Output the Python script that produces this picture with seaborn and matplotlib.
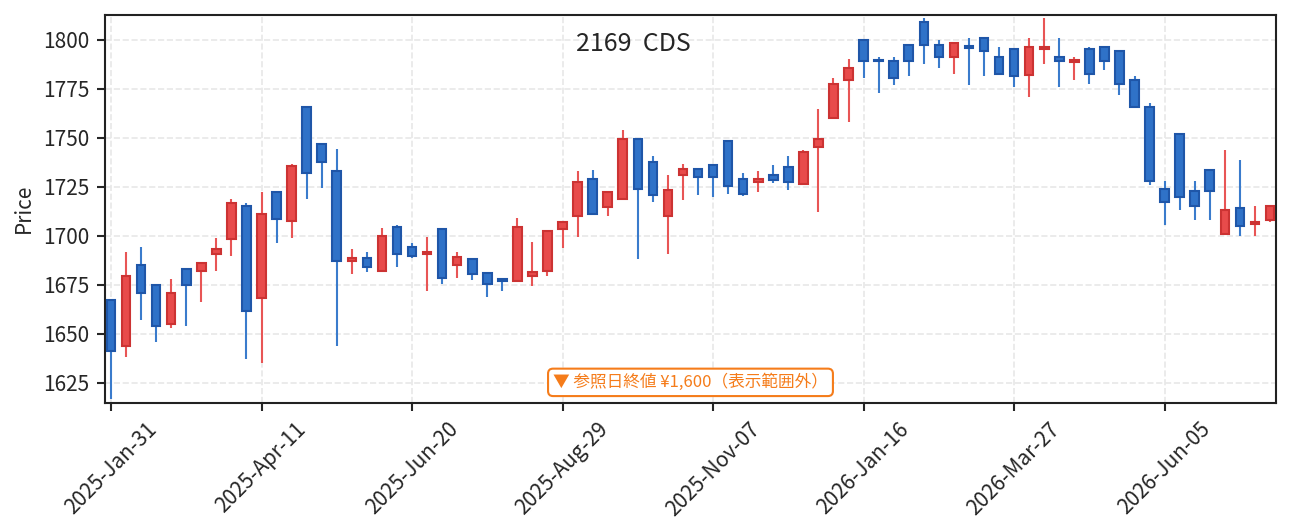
import pandas as pd
import matplotlib
matplotlib.use("Agg")
import matplotlib.pyplot as plt
import matplotlib.dates as mdates
import seaborn as sns

# weekly candles
dates = pd.date_range("2025-01-31", periods=78, freq="7D")

opens = [1667.5, 1643.7, 1685.2, 1675.0, 1654.9, 1683.2, 1682.0, 1690.6, 1698.3, 1715.3,
         1668.2, 1722.4, 1707.5, 1765.8, 1746.9, 1733.2, 1687.1, 1688.8, 1682.0, 1704.3,
         1694.4, 1690.6, 1703.6, 1685.0, 1688.3, 1680.8, 1678.0, 1677.2, 1679.3, 1682.1,
         1703.4, 1710.0, 1729.1, 1714.5, 1718.7, 1749.5, 1737.8, 1710.0, 1731.0, 1734.2,
         1736.2, 1748.5, 1729.1, 1727.6, 1731.1, 1735.2, 1726.4, 1745.2, 1760.0, 1779.3,
         1800.0, 1789.6, 1789.3, 1797.4, 1809.2, 1797.4, 1791.2, 1796.6, 1801.0, 1791.3,
         1795.4, 1782.1, 1795.2, 1791.3, 1788.4, 1795.4, 1796.4, 1794.4, 1779.6, 1765.8,
         1724.0, 1751.7, 1722.9, 1733.7, 1700.9, 1714.3, 1706.0, 1708.0]
closes = [1641.2, 1679.6, 1670.7, 1653.9, 1670.9, 1674.8, 1686.2, 1693.5, 1716.8, 1661.7,
          1711.1, 1708.7, 1735.7, 1732.0, 1737.8, 1687.1, 1688.8, 1684.0, 1700.0, 1690.6,
          1689.6, 1691.8, 1678.4, 1689.3, 1680.4, 1675.3, 1677.2, 1704.6, 1681.6, 1702.6,
          1707.1, 1727.6, 1710.9, 1722.4, 1749.5, 1724.1, 1720.7, 1723.6, 1734.0, 1729.8,
          1729.8, 1725.3, 1721.3, 1729.1, 1728.4, 1727.6, 1742.9, 1749.5, 1777.6, 1785.7,
          1788.9, 1788.9, 1780.4, 1788.9, 1797.1, 1791.2, 1798.5, 1796.0, 1794.2, 1782.3,
          1781.5, 1796.4, 1796.4, 1789.1, 1789.5, 1782.5, 1789.1, 1777.4, 1765.6, 1728.1,
          1717.2, 1719.7, 1715.1, 1722.8, 1713.3, 1704.9, 1707.1, 1715.3]
highs = [1668.0, 1691.7, 1694.2, 1675.0, 1678.2, 1683.2, 1686.2, 1698.8, 1718.7, 1716.5,
         1722.3, 1722.4, 1736.4, 1765.8, 1746.9, 1744.2, 1693.2, 1691.7, 1703.9, 1705.4,
         1696.3, 1699.3, 1703.6, 1691.7, 1688.3, 1680.8, 1678.3, 1709.0, 1696.8, 1702.6,
         1707.1, 1733.0, 1733.8, 1722.4, 1753.9, 1749.5, 1740.6, 1731.0, 1736.4, 1734.2,
         1736.2, 1748.5, 1731.8, 1733.2, 1736.1, 1740.6, 1744.0, 1764.5, 1780.4, 1790.1,
         1800.0, 1791.0, 1791.0, 1797.4, 1810.9, 1799.8, 1798.5, 1800.7, 1801.0, 1796.3,
         1795.4, 1800.8, 1810.9, 1800.8, 1791.0, 1796.1, 1796.4, 1794.4, 1781.3, 1767.5,
         1727.9, 1752.4, 1727.9, 1733.7, 1743.7, 1738.6, 1715.1, 1715.3]
lows = [1616.7, 1638.3, 1657.1, 1645.9, 1653.1, 1654.1, 1666.3, 1682.1, 1689.8, 1637.4,
        1634.9, 1696.4, 1699.0, 1718.9, 1724.5, 1643.9, 1680.6, 1681.6, 1682.0, 1684.2,
        1688.8, 1671.9, 1675.5, 1678.6, 1677.4, 1668.9, 1671.8, 1676.7, 1674.5, 1679.6,
        1693.9, 1699.5, 1710.9, 1710.2, 1718.7, 1688.3, 1717.0, 1690.5, 1718.1, 1720.9,
        1719.9, 1721.4, 1720.1, 1722.4, 1726.7, 1723.5, 1726.4, 1712.2, 1760.0, 1758.2,
        1780.6, 1773.0, 1777.0, 1781.6, 1787.8, 1785.7, 1782.7, 1777.0, 1781.6, 1782.3,
        1776.0, 1770.9, 1787.8, 1776.0, 1779.6, 1777.6, 1784.7, 1772.0, 1765.6, 1726.0,
        1705.6, 1713.3, 1708.2, 1708.2, 1700.9, 1700.0, 1700.0, 1707.1]

title = "2169  CDS"
note = "▼ 参照日終値 ¥1,600（表示範囲外）"

df = pd.DataFrame({"date": dates, "open": opens, "close": closes, "high": highs, "low": lows})
df["up"] = df["close"] >= df["open"]
df["bottom"] = df[["open", "close"]].min(axis=1)
df["height"] = (df["close"] - df["open"]).abs()

sns.set_style("ticks")
plt.rcParams["font.family"] = ["Noto Sans CJK JP", "DejaVu Sans"]

fig, ax = plt.subplots(figsize=(1291 / 150, 532 / 150), dpi=150)
fig.subplots_adjust(left=0.0813, right=0.9884, top=0.9718, bottom=0.2434)

up_fill, up_edge, up_wick = "#e84b4b", "#cc3333", "#e85555"
dn_fill, dn_edge, dn_wick = "#2f72c8", "#1f56a8", "#3a7bcc"

for up, fill, edge, wick in [(True, up_fill, up_edge, up_wick), (False, dn_fill, dn_edge, dn_wick)]:
    d = df[df["up"] == up]
    ax.vlines(d["date"], d["low"], d["high"], color=wick, linewidth=1.0, zorder=2)
    ax.bar(d["date"], d["height"], bottom=d["bottom"], width=4.0,
           color=fill, edgecolor=edge, linewidth=1.0, zorder=3)

ax.set_xlim(dates[0] - pd.Timedelta(days=2.8), dates[-1] + pd.Timedelta(days=2.8))
ax.set_ylim(1615, 1812.6)
ax.set_yticks(range(1625, 1801, 25))
ax.set_xticks(dates[::10])
ax.xaxis.set_major_formatter(mdates.DateFormatter("%Y-%b-%d"))
plt.setp(ax.get_xticklabels(), rotation=45, ha="center")
ax.tick_params(labelsize=10, length=4, width=1)

ax.grid(True, linestyle="--", color="#e8e8e8", linewidth=0.8)
ax.set_axisbelow(True)
for s in ax.spines.values():
    s.set_visible(True)
    s.set_color("#222222")
    s.set_linewidth(1.0)

ax.set_ylabel("Price", fontsize=10)
ax.set_xlabel("")
ax.text(0.451, 0.958, title, transform=ax.transAxes, ha="center", va="top", fontsize=12)
ax.text(0.5, 0.052, note, transform=ax.transAxes, ha="center", va="center",
        fontsize=8, color="#f57c1a",
        bbox=dict(boxstyle="round,pad=0.3", fc="white", ec="#f57c1a", lw=1.0), zorder=5)

fig.savefig("out.png", dpi=150)
